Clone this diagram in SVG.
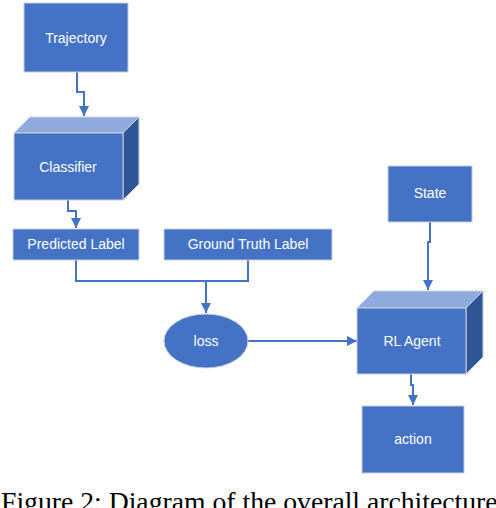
<svg xmlns="http://www.w3.org/2000/svg" width="496" height="508" viewBox="0 0 496 508">
<style>
.box{fill:#4472C4;stroke:#C9D1DE;stroke-width:1}
.top{fill:#8FAADC;stroke:#C9D1DE;stroke-width:1}
.side{fill:#2F5597;stroke:#C9D1DE;stroke-width:1}
.lbl{font-family:"Liberation Sans",Arial,sans-serif;font-size:14px;fill:#FFFFFF;text-anchor:middle;dominant-baseline:central}
.con{fill:none;stroke:#4472C4;stroke-width:2}
.cap{font-family:"Liberation Serif","Times New Roman",serif;font-size:27.7px;fill:#000000}
</style>
<defs>
<marker id="ah" viewBox="0 0 10 10" refX="10" refY="5" markerWidth="5" markerHeight="5" orient="auto" markerUnits="strokeWidth">
<path d="M0,0 L10,5 L0,10 Z" fill="#4472C4"/>
</marker>
</defs>
<g id="connectors">
<path class="con" d="M77,72 V92 H84 V116" marker-end="url(#ah)"/>
<path class="con" d="M68,200 V211 H76 V228" marker-end="url(#ah)"/>
<path class="con" d="M76,260 V281 H248 V260"/>
<path class="con" d="M206,281 V313" marker-end="url(#ah)"/>
<path class="con" d="M248,341 H357" marker-end="url(#ah)"/>
<path class="con" d="M430,222 V242 H428 V290" marker-end="url(#ah)"/>
<path class="con" d="M411,374 V385 H413 V405" marker-end="url(#ah)"/>
</g>
<g id="trajectory">
<rect class="box" x="24" y="3" width="104" height="69"/>
<text class="lbl" x="76" y="38">Trajectory</text>
</g>
<g id="classifier">
<path class="top" d="M14,133 L30,117 H139 L123,133 Z"/>
<path class="side" d="M123,133 L139,117 V184 L123,200 Z"/>
<rect class="box" x="14" y="133" width="109" height="67"/>
<text class="lbl" x="68" y="167">Classifier</text>
</g>
<g id="predicted">
<rect class="box" x="13" y="229" width="126" height="31"/>
<text class="lbl" x="76" y="244">Predicted Label</text>
</g>
<g id="groundtruth">
<rect class="box" x="164" y="229" width="168" height="31"/>
<text class="lbl" x="248" y="244">Ground Truth Label</text>
</g>
<g id="loss">
<ellipse class="box" cx="206" cy="341" rx="42" ry="27"/>
<text class="lbl" x="206" y="341">loss</text>
</g>
<g id="state">
<rect class="box" x="388" y="166" width="84" height="56"/>
<text class="lbl" x="430" y="193">State</text>
</g>
<g id="rlagent">
<path class="top" d="M357,308 L374,291 H483 L466,308 Z"/>
<path class="side" d="M466,308 L483,291 V357 L466,374 Z"/>
<rect class="box" x="357" y="308" width="109" height="66"/>
<text class="lbl" x="412" y="341">RL Agent</text>
</g>
<g id="action">
<rect class="box" x="362" y="406" width="102" height="67"/>
<text class="lbl" x="413" y="439">action</text>
</g>
<text class="cap" x="1" y="511">Figure 2: Diagram of the overall architecture</text>
</svg>
